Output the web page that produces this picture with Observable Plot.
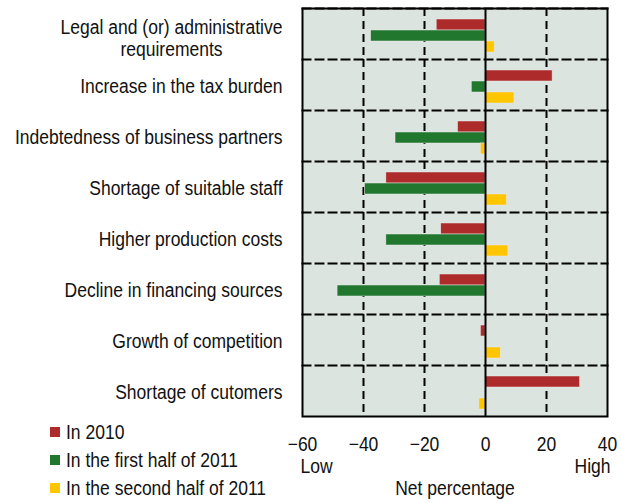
<!DOCTYPE html>
<html>
<head>
<meta charset="utf-8">
<script src="https://cdn.jsdelivr.net/npm/d3@7"></script>
<script src="https://cdn.jsdelivr.net/npm/@observablehq/plot@0.6"></script>
<style>
  html, body { margin: 0; padding: 0; background: #fff; }
  #wrap { position: relative; width: 630px; height: 503px; overflow: hidden; }
  #legend { position: absolute; left: 50px; top: 418px; font-family: "Liberation Sans", Arial, sans-serif; font-size: 20px; color: #111; }
  #legend .row { display: flex; align-items: center; height: 28px; white-space: nowrap; }
  #legend .sw { width: 10px; height: 10px; margin-right: 6px; flex: none; }
  #legend .lb { display: inline-block; transform: scaleX(0.875); transform-origin: left center; }
</style>
</head>
<body>
<div id="wrap"><div id="legend"></div></div>
<script>
const categories = [
  "Legal and (or) administrative\nrequirements",
  "Increase in the tax burden",
  "Indebtedness of business partners",
  "Shortage of suitable staff",
  "Higher production costs",
  "Decline in financing sources",
  "Growth of competition",
  "Shortage of cutomers"
];
const series = ["In 2010", "In the first half of 2011", "In the second half of 2011"];
const values2010 = [-16, 22, -9, -32.5, -14.5, -15, -1.5, 31];
const valuesH1 = [-37.5, -4.5, -29.5, -39.5, -32.5, -48.5, 0, 0];
const valuesH2 = [3, 9.5, -1.5, 7, 7.5, 0, 5, -2];
const colors = ["#ae2b2b", "#22772f", "#ffc600"];
const xTicks = [-60, -40, -20, 0, 20, 40];
const xDomain = [-60, 40];
const gridTicks = [-40, -20, 20];

const seriesValues = [values2010, valuesH1, valuesH2];
const rows = [];
categories.forEach((c, i) => series.forEach((s, j) => {
  if (seriesValues[j][i] !== 0) rows.push({cat: c, series: s, value: seriesValues[j][i]});
}));

const singleLine = categories.filter(c => !c.includes("\n"));
const multiLine = categories.filter(c => c.includes("\n"));
const lastCat = categories[categories.length - 1];
const font = '"Liberation Sans", Arial, sans-serif';
const squeeze = 0.875;

const chart = Plot.plot({
  width: 630,
  height: 503,
  marginLeft: 302,
  marginRight: 23,
  marginTop: 7,
  marginBottom: 86,
  style: {fontFamily: font, fontSize: "20px", color: "#111", background: "transparent"},
  x: {domain: xDomain, ticks: xTicks, tickSize: 0, tickPadding: 20, label: null},
  y: {domain: series, axis: null, paddingInner: 0.04, paddingOuter: 0.78, align: 0.57},
  fy: {domain: categories, padding: 0, axis: null, label: null},
  color: {domain: series, range: colors},
  marks: [
    Plot.frame({fill: "#dce4df"}),
    Plot.ruleX(gridTicks, {stroke: "#000", strokeWidth: 2, strokeDasharray: "8,5"}),
    Plot.frame({anchor: "top", stroke: "#000", strokeWidth: 2, strokeDasharray: "8,5"}),
    Plot.barX(rows, {fy: "cat", y: "series", x: "value", fill: "series", stroke: "#e8e8e8", strokeWidth: 0.5}),
    Plot.ruleX([0], {stroke: "#000", strokeWidth: 2}),
    Plot.frame({facet: "super", stroke: "#000", strokeWidth: 2}),
    Plot.text(singleLine, {fy: d => d, text: d => d, frameAnchor: "left", textAnchor: "end", dx: -20, dy: 2, fill: "#111"}),
    Plot.text(multiLine, {fy: d => d, text: d => d, frameAnchor: "left", textAnchor: "middle", dx: -131, dy: 4, lineHeight: 1.1, fill: "#111"}),
    Plot.text([lastCat], {fy: d => d, text: () => "Low", frameAnchor: "bottom-left", textAnchor: "start", dx: -2, dy: 56, fill: "#111"}),
    Plot.text([lastCat], {fy: d => d, text: () => "High", frameAnchor: "bottom-right", textAnchor: "end", dx: 3, dy: 56, fill: "#111"}),
    Plot.text([lastCat], {fy: d => d, text: () => "Net percentage", frameAnchor: "bottom", textAnchor: "middle", dy: 78, fill: "#111"})
  ]
});
document.getElementById("wrap").prepend(chart);

// condense glyphs horizontally (reference uses a narrow typeface)
chart.querySelectorAll("text").forEach(t => {
  const spans = t.querySelectorAll("tspan");
  const targets = spans.length ? Array.from(spans) : [t];
  targets.forEach(el => {
    const len = el.getComputedTextLength();
    if (len > 0) {
      el.setAttribute("textLength", (len * squeeze).toFixed(2));
      el.setAttribute("lengthAdjust", "spacingAndGlyphs");
    }
  });
});

const legend = document.getElementById("legend");
series.forEach((s, j) => {
  const row = document.createElement("div");
  row.className = "row";
  const sw = document.createElement("span");
  sw.className = "sw";
  sw.style.background = colors[j];
  const label = document.createElement("span");
  label.className = "lb";
  label.textContent = s;
  row.append(sw, label);
  legend.append(row);
});
</script>
</body>
</html>
